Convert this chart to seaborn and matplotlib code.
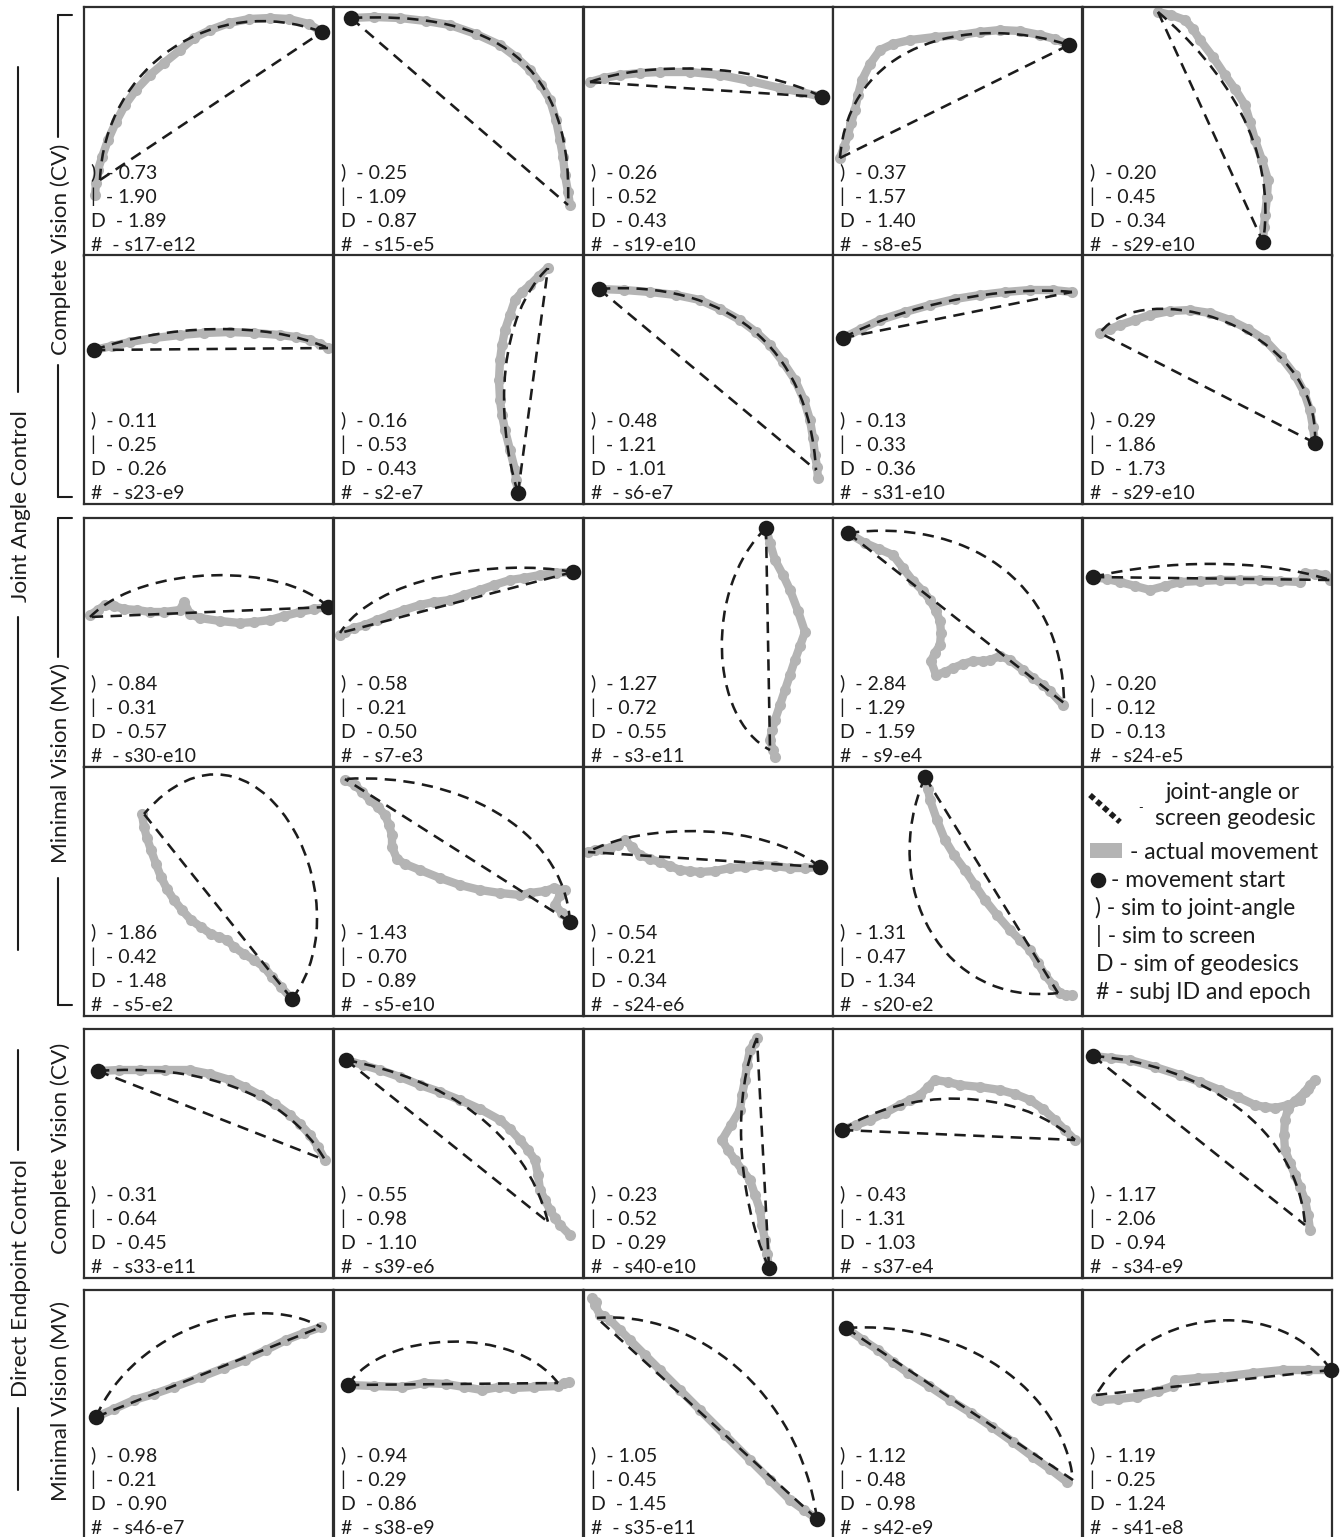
import matplotlib
matplotlib.use("Agg")
import matplotlib.pyplot as plt
from matplotlib.path import Path
from matplotlib.patches import PathPatch, Rectangle
from matplotlib.lines import Line2D
import seaborn as sns

sns.set_theme(style="white")
plt.rcParams["font.family"] = ["Lato", "DejaVu Sans"]

# ---------------------------------------------------------------------------
# Trajectories in panel workspace units (x right, y down); first point is the
# movement start.  Arcs are cubic Bezier control points of the joint-angle
# geodesic; the screen geodesic is the straight chord between its end points.
# ---------------------------------------------------------------------------
path_01 = [(238,25),(225,17),(205,12),(186,11),(165,12),(145,16),(126,23),(110,31),(96,43),(80,56),(66,68),(52,83),(41,98),(32,115),(24,133),(18,150),(14,163),(12,176),(11,188)]
arc_01 = [(16,173),(20,60),(130,-15),(238,25)]
path_02 = [(17,11),(40,10),(66,11),(92,14),(116,18),(142,27),(166,38),(182,50),(196,63),(207,78),(216,93),(222,113),(226,133),(229,150),(231,168),(234,185),(236,198)]
arc_02 = [(17,11),(140,5),(240,40),(234,198)]
path_03 = [(238,90),(217,85),(196,81),(166,74),(136,68),(106,65),(76,65),(56,66),(36,68),(20,71),(6,75)]
arc_03 = [(6,75),(60,55),(170,55),(238,90)]
path_04 = [(236,38),(222,32),(207,28),(187,24),(167,23),(147,25),(127,28),(102,30),(77,33),(60,37),(47,43),(37,57),(29,73),(25,88),(22,103),(18,116),(15,128),(11,140),(7,151)]
arc_04 = [(7,151),(15,40),(130,5),(236,38)]
path_05 = [(180,235),(181,220),(182,208),(184,190),(185,173),(179,153),(172,133),(167,115),(162,98),(152,82),(142,68),(130,50),(117,33),(110,22),(102,13),(88,8),(75,5)]
arc_05 = [(75,5),(140,60),(195,140),(180,235)]

path_06 = [(10,95),(28,91),(46,87),(70,83),(96,80),(120,78),(146,77),(170,78),(196,80),(212,82),(226,85),(236,89),(244,93)]
arc_06 = [(10,95),(80,70),(180,65),(244,93)]
path_07 = [(184,238),(182,225),(181,215),(176,195),(171,175),(168,160),(166,145),(165,125),(166,105),(168,90),(171,75),(176,60),(181,45),(188,37),(196,30),(205,21),(214,13)]
arc_07 = [(184,238),(160,160),(165,60),(214,13)]
path_08 = [(15,34),(40,35),(66,37),(92,40),(116,45),(136,54),(156,65),(172,77),(186,90),(199,107),(211,125),(220,145),(226,165),(229,183),(231,200),(233,212),(234,223)]
arc_08 = [(15,34),(140,25),(225,90),(232,215)]
path_09 = [(10,83),(28,74),(47,65),(72,57),(97,50),(122,44),(147,40),(172,37),(197,35),(220,35),(239,37)]
arc_09 = [(10,83),(70,50),(170,30),(239,37)]
path_10 = [(232,188),(230,172),(227,155),(221,137),(212,120),(198,102),(182,85),(165,74),(147,65),(127,58),(107,55),(87,56),(67,60),(52,65),(37,70),(27,74),(17,78)]
arc_10 = [(232,188),(238,70),(60,20),(17,78)]

path_11 = [(244,89),(230,91),(216,94),(200,98),(186,102),(170,104),(156,105),(136,103),(116,100),(106,96),(100,84),(96,92),(80,94),(66,94),(53,92),(40,91),(30,88),(21,87),(14,92),(6,97)]
arc_11 = [(244,89),(200,45),(60,45),(6,99)]
path_12 = [(239,54),(222,55),(206,57),(190,60),(176,62),(160,67),(146,72),(130,77),(116,82),(100,84),(86,87),(70,92),(56,97),(43,102),(31,107),(20,110),(11,114),(6,117)]
arc_12 = [(239,54),(160,40),(40,60),(6,115)]
path_13 = [(182,10),(186,25),(191,42),(199,57),(206,72),(214,93),(221,114),(216,128),(211,142),(206,157),(201,172),(196,187),(191,202),(188,212),(186,222),(189,232),(191,239)]
arc_13 = [(182,10),(120,70),(125,200),(186,232)]
path_14 = [(15,15),(32,25),(46,31),(60,37),(70,50),(80,63),(90,73),(97,82),(103,93),(107,103),(108,115),(107,127),(102,135),(98,143),(103,157),(112,154),(120,150),(130,146),(140,143),(150,143),(157,142),(167,138),(177,142),(190,152),(200,160),(210,167),(217,173),(230,187)]
arc_14 = [(15,15),(130,0),(230,60),(231,185)]
path_15 = [(10,59),(24,61),(37,64),(52,68),(67,72),(82,68),(97,64),(117,63),(137,62),(157,62),(177,62),(197,63),(217,64),(222,55),(232,56),(242,57),(247,62)]
arc_15 = [(10,59),(80,42),(180,40),(247,62)]

path_16 = [(208,232),(197,220),(188,210),(180,200),(170,193),(160,187),(150,180),(143,173),(135,170),(127,167),(117,160),(107,153),(98,143),(90,133),(83,122),(77,110),(72,97),(67,83),(63,71),(60,60),(58,47)]
arc_16 = [(208,232),(285,130),(170,-80),(60,47)]
path_17 = [(236,155),(228,146),(221,138),(226,128),(231,123),(220,121),(211,124),(196,126),(186,128),(166,126),(146,123),(126,118),(106,111),(86,103),(71,97),(63,92),(58,80),(58,68),(55,58),(51,48),(44,40),(36,33),(28,25),(21,18),(11,13)]
arc_17 = [(236,155),(230,60),(120,5),(11,12)]
path_18 = [(236,100),(221,101),(206,101),(191,99),(176,98),(161,100),(146,101),(131,104),(116,105),(106,104),(96,103),(86,99),(76,95),(66,92),(56,88),(48,80),(41,73),(34,78),(26,81),(18,82),(11,83),(4,85)]
arc_18 = [(236,100),(180,55),(60,55),(4,85)]
path_19 = [(92,10),(95,22),(97,33),(104,53),(112,73),(121,88),(132,103),(142,118),(152,133),(164,148),(177,163),(187,173),(197,183),(205,196),(212,208),(220,218),(227,226),(233,228),(239,228)]
arc_19 = [(92,10),(45,120),(110,240),(225,226)]

path_20 = [(14,42),(35,41),(56,41),(81,41),(106,41),(126,45),(146,51),(161,58),(176,66),(191,75),(206,86),(216,95),(226,106),(234,118),(241,131)]
arc_20 = [(14,42),(110,35),(200,60),(241,131)]
path_21 = [(12,31),(29,36),(46,41),(66,48),(86,56),(106,63),(126,71),(146,80),(166,91),(176,100),(186,111),(194,121),(201,131),(204,146),(206,161),(211,171),(216,181),(221,189),(226,196),(236,206)]
arc_21 = [(12,31),(110,50),(190,100),(214,193)]
path_22 = [(185,239),(183,225),(181,211),(178,196),(176,181),(171,166),(166,151),(158,141),(151,131),(144,121),(138,111),(147,96),(156,81),(158,66),(161,51),(163,36),(166,21),(170,14),(173,9)]
arc_22 = [(185,239),(150,160),(150,60),(173,9)]
path_23 = [(9,101),(23,96),(37,91),(52,84),(67,76),(77,71),(87,66),(95,58),(102,51),(115,53),(127,56),(147,58),(167,61),(182,65),(197,71),(210,80),(222,91),(232,101),(242,111)]
arc_23 = [(9,101),(70,60),(180,55),(242,111)]
path_24 = [(10,27),(28,29),(47,31),(72,38),(97,46),(117,53),(137,61),(155,68),(172,76),(182,78),(192,79),(205,76),(217,71),(222,63),(227,56),(232,51),(225,60),(212,72),(205,80),(202,91),(201,106),(202,121),(207,134),(212,146),(217,158),(222,171),(225,186),(227,201)]
arc_24 = [(10,27),(120,35),(215,100),(222,196)]

path_25 = [(12,127),(30,119),(50,110),(70,104),(90,97),(117,87),(140,78),(161,70),(182,60),(202,50),(220,43),(237,37)]
arc_25 = [(12,127),(50,40),(170,0),(237,37)]
path_26 = [(14,95),(40,96),(68,97),(90,93),(112,94),(130,97),(148,100),(165,97),(179,98),(200,97),(224,96),(230,93),(235,92)]
arc_26 = [(14,95),(50,40),(180,35),(224,93)]
path_27 = [(233,229),(220,220),(206,210),(186,190),(166,170),(141,145),(116,120),(96,100),(76,80),(61,65),(46,50),(36,40),(26,30),(20,26),(16,25),(11,15),(8,8),(12,12)]
arc_27 = [(233,229),(215,100),(110,20),(13,28)]
path_28 = [(13,38),(30,50),(45,60),(60,72),(75,83),(96,96),(117,110),(138,123),(159,137),(180,152),(200,167),(217,179),(234,192)]
arc_28 = [(13,38),(130,30),(230,100),(240,190)]
path_29 = [(248,80),(225,80),(200,80),(170,83),(138,87),(115,88),(92,90),(90,96),(75,101),(54,107),(35,109),(17,110),(13,108)]
arc_29 = [(248,80),(200,10),(70,10),(13,105)]

# similarity scores and subject/epoch ids, panel order left-to-right, top-to-bottom
sim_joint = [0.73, 0.25, 0.26, 0.37, 0.20, 0.11, 0.16, 0.48, 0.13, 0.29,
             0.84, 0.58, 1.27, 2.84, 0.20, 1.86, 1.43, 0.54, 1.31,
             0.31, 0.55, 0.23, 0.43, 1.17, 0.98, 0.94, 1.05, 1.12, 1.19]
sim_screen = [1.90, 1.09, 0.52, 1.57, 0.45, 0.25, 0.53, 1.21, 0.33, 1.86,
              0.31, 0.21, 0.72, 1.29, 0.12, 0.42, 0.70, 0.21, 0.47,
              0.64, 0.98, 0.52, 1.31, 2.06, 0.21, 0.29, 0.45, 0.48, 0.25]
sim_geo = [1.89, 0.87, 0.43, 1.40, 0.34, 0.26, 0.43, 1.01, 0.36, 1.73,
           0.57, 0.50, 0.55, 1.59, 0.13, 1.48, 0.89, 0.34, 1.34,
           0.45, 1.10, 0.29, 1.03, 0.94, 0.90, 0.86, 1.45, 0.98, 1.24]
subj_epoch = ["s17-e12", "s15-e5", "s19-e10", "s8-e5", "s29-e10",
              "s23-e9", "s2-e7", "s6-e7", "s31-e10", "s29-e10",
              "s30-e10", "s7-e3", "s3-e11", "s9-e4", "s24-e5",
              "s5-e2", "s5-e10", "s24-e6", "s20-e2",
              "s33-e11", "s39-e6", "s40-e10", "s37-e4", "s34-e9",
              "s46-e7", "s38-e9", "s35-e11", "s42-e9", "s41-e8"]

paths = [path_01, path_02, path_03, path_04, path_05, path_06, path_07, path_08, path_09, path_10,
         path_11, path_12, path_13, path_14, path_15, path_16, path_17, path_18, path_19,
         path_20, path_21, path_22, path_23, path_24, path_25, path_26, path_27, path_28, path_29]
arcs = [arc_01, arc_02, arc_03, arc_04, arc_05, arc_06, arc_07, arc_08, arc_09, arc_10,
        arc_11, arc_12, arc_13, arc_14, arc_15, arc_16, arc_17, arc_18, arc_19,
        arc_20, arc_21, arc_22, arc_23, arc_24, arc_25, arc_26, arc_27, arc_28, arc_29]

# ---------------------------------------------------------------------------
W, H = 1343, 1537
fig = plt.figure(figsize=(W / 100, H / 100), dpi=100)
fig.patch.set_facecolor("white")

GRAY = "#b4b4b4"
INK = "#1c1c1c"
EDGE = "#2e2e2e"
DASH = (0, (4.4, 2.9))
DASH_LW = 1.85
col_left = [84, 334, 584, 833, 1083]
row_top = [7, 255, 518, 767, 1029, 1290]
PW, PH = 249, 249
NUM_FS = 14
LEG_FS = 16.5
SIDE_FS = 16.2


def fx(px):
    return px / W


def fy(py):
    return 1 - py / H


def make_axes(r, c):
    x0, y0 = col_left[c], row_top[r]
    ax = fig.add_axes([fx(x0), fy(y0 + PH), PW / W, PH / H])
    ax.set_xlim(0, PW)
    ax.set_ylim(PH, 0)
    ax.set_xticks([])
    ax.set_yticks([])
    ax.set_facecolor("white")
    for s in ax.spines.values():
        s.set_color(EDGE)
        s.set_linewidth(1.6)
        s.set_visible(True)
    return ax


cells = [(r, c) for r in range(6) for c in range(5) if not (r == 3 and c == 4)]

for i, (r, c) in enumerate(cells):
    ax = make_axes(r, c)
    xs = [p[0] for p in paths[i]]
    ys = [p[1] for p in paths[i]]
    sns.lineplot(x=xs, y=ys, sort=False, estimator=None, color=GRAY, lw=6.0,
                 marker="o", markersize=8, markeredgewidth=0, ax=ax, zorder=2)
    arc = arcs[i]
    codes = [Path.MOVETO, Path.CURVE4, Path.CURVE4, Path.CURVE4]
    ax.add_patch(PathPatch(Path(arc, codes), fill=False, ec=INK, lw=DASH_LW,
                           ls=DASH, zorder=3))
    ax.plot([arc[0][0], arc[3][0]], [arc[0][1], arc[3][1]], color=INK,
            lw=DASH_LW, ls=DASH, zorder=3)
    ax.scatter([xs[0]], [ys[0]], s=125, color=INK, zorder=5, clip_on=False,
               linewidths=0)
    ax.set_xlabel("")
    ax.set_ylabel("")
    ax.set_xlim(0, PW)
    ax.set_ylim(PH, 0)
    lines = [f")  - {sim_joint[i]:.2f}", f"|  - {sim_screen[i]:.2f}",
             f"D  - {sim_geo[i]:.2f}", f"#  - {subj_epoch[i]}"]
    for txt, base in zip(lines, [78, 53, 29, 5]):
        ax.text(7, PH - base, txt, fontsize=NUM_FS, color=INK,
                ha="left", va="baseline", zorder=4)

# legend cell
lg = make_axes(3, 4)
lg.plot([7, 37], [28, 55], color=INK, lw=4.0, ls=(0, (1.0, 0.65)),
        solid_capstyle="butt", dash_capstyle="butt")
lg.text(55, 41, "-", fontsize=9, color=INK, ha="left", va="center")
lg.text(83, 32, "joint-angle or", fontsize=LEG_FS, color=INK, va="baseline")
lg.text(72, 58, "screen geodesic", fontsize=LEG_FS, color=INK, va="baseline")
lg.add_patch(Rectangle((7, 76), 32, 15, color=GRAY, lw=0))
lg.text(47, 92, "- actual movement", fontsize=LEG_FS, color=INK, va="baseline")
lg.scatter([15], [113], s=125, color=INK, linewidths=0)
lg.text(28, 120, "- movement start", fontsize=LEG_FS, color=INK, va="baseline")
lg.text(12, 148, ") - sim to joint-angle", fontsize=LEG_FS, color=INK, va="baseline")
lg.text(13, 176, "| - sim to screen", fontsize=LEG_FS, color=INK, va="baseline")
lg.text(13, 204, "D - sim of geodesics", fontsize=LEG_FS, color=INK, va="baseline")
lg.text(13, 232, "# - subj ID and epoch", fontsize=LEG_FS, color=INK, va="baseline")
lg.set_xlim(0, PW)
lg.set_ylim(PH, 0)


# side labels and brackets
def vline(x, y0, y1):
    fig.add_artist(Line2D([fx(x), fx(x)], [fy(y0), fy(y1)], color=INK, lw=1.5))


def hline(x0, x1, y):
    fig.add_artist(Line2D([fx(x0), fx(x1)], [fy(y), fy(y)], color=INK, lw=1.5))


def side_text(x, y, s):
    fig.text(fx(x), fy(y), s, rotation=90, ha="center", va="center",
             fontsize=SIDE_FS, color=INK)


side_text(21, 506, "Joint Angle Control")
vline(18, 67, 392)
vline(18, 617, 950)

side_text(61, 249, "Complete Vision (CV)")
vline(58, 15, 137)
vline(58, 365, 497)
hline(58, 72, 15)
hline(58, 72, 497)

side_text(61, 763, "Minimal Vision (MV)")
vline(58, 518, 657)
vline(58, 878, 1005)
hline(58, 72, 518)
hline(58, 72, 1005)

side_text(21, 1278, "Direct Endpoint Control")
vline(18, 1050, 1150)
vline(18, 1408, 1490)
side_text(61, 1148, "Complete Vision (CV)")
side_text(61, 1401, "Minimal Vision (MV)")

fig.savefig("out.png", dpi=100, facecolor="white")
